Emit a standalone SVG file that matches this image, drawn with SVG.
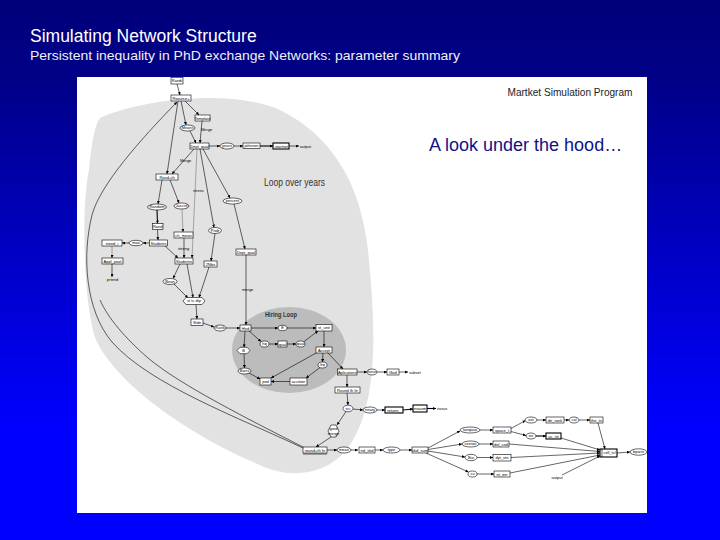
<svg xmlns="http://www.w3.org/2000/svg" width="720" height="540" viewBox="0 0 720 540">
<defs>
<linearGradient id="bg" x1="0" y1="0" x2="0" y2="1">
<stop offset="0" stop-color="#00007a"/>
<stop offset="0.15" stop-color="#000088"/>
<stop offset="0.7" stop-color="#0000f0"/>
<stop offset="0.8" stop-color="#0000ff"/>
<stop offset="1" stop-color="#0000ff"/>
</linearGradient>
<marker id="a" viewBox="0 0 6 6" refX="6" refY="3" markerWidth="3" markerHeight="3" orient="auto" markerUnits="userSpaceOnUse"><path d="M0,0 L6,3 L0,6 z" fill="#000"/></marker>
<style>
.b{fill:#fff;stroke:#000;stroke-width:0.6}
.d{fill:#fff;stroke:#000;stroke-width:1.1}
.t{font-family:"Liberation Sans",Arial,sans-serif;font-size:4px;text-anchor:middle;fill:#000}
.l{font-family:"Liberation Sans",Arial,sans-serif;font-size:4px;fill:#000}
.c path{fill:none;stroke:#000;stroke-width:0.6;marker-end:url(#a)}
.c path.g{stroke:#777}
.c path.k{stroke-width:1.1}
.c path.n{marker-end:none}
</style>
</defs>
<rect x="0" y="0" width="720" height="540" fill="url(#bg)"/>
<text x="30" y="42" font-family="Liberation Sans, Arial, sans-serif" font-size="17.5" fill="#fff">Simulating Network Structure</text>
<text x="30" y="60" font-family="Liberation Sans, Arial, sans-serif" font-size="13.5" fill="#f0f0f0" textLength="430" lengthAdjust="spacingAndGlyphs">Persistent inequality in PhD exchange Networks: parameter summary</text>
<rect x="77" y="77" width="570" height="436" fill="#fff"/>
<path d="M100,118 C140,100 230,88 280,110 C330,135 360,180 368,250 C375,320 380,400 350,445 C330,475 290,480 260,465 C200,440 120,390 96,340 C82,300 82,200 89,170 C92,140 95,125 100,118 Z" fill="#e2e2e2"/>
<ellipse cx="289" cy="350" rx="57" ry="43" fill="#bcbcbc"/>
<text x="570" y="96" font-family="Liberation Sans, Arial, sans-serif" font-size="11.5" fill="#222" text-anchor="middle" textLength="125" lengthAdjust="spacingAndGlyphs">Martket Simulation Program</text>
<text x="429" y="151" font-family="Liberation Sans, Arial, sans-serif" font-size="18" fill="#10108a">A look under the hood…</text>
<text x="264" y="186" font-family="Liberation Sans, Arial, sans-serif" font-size="10" fill="#333" textLength="61" lengthAdjust="spacingAndGlyphs">Loop over years</text>
<text x="265" y="317" font-family="Liberation Sans, Arial, sans-serif" font-size="7" font-weight="bold" fill="#333" textLength="32" lengthAdjust="spacingAndGlyphs">Hiring Loop</text>

<g id="connectors" class="c">
<path d="M177,84 L180,95"/>
<path d="M185,101 L199,115"/>
<path d="M181,101 L186,125"/>
<path d="M190,131 L196,143"/>
<path d="M202,121 L200,143"/>
<path d="M209,146 L220,146"/>
<path d="M234,146 L243,146"/>
<path class="k" d="M260,146 L273,146"/>
<path d="M289,146 L299,146"/>
<path d="M194,149 L172,174"/>
<path d="M178,101 L167,174"/>
<path d="M162,180 L158,204"/>
<path d="M170,180 L179,203"/>
<path class="k" d="M157,210 L157.5,223.5"/>
<path d="M157.5,229.5 L158,240"/>
<path class="g" d="M182,209 L183,232"/>
<path d="M184,238 L184,258"/>
<path d="M165,246 L178,258"/>
<path class="g" d="M197,149 L192,258"/>
<path d="M200,149 L214,227.5"/>
<path d="M203,149 L230,198"/>
<path d="M234,204 L245,249"/>
<path d="M215,233.5 L211,261"/>
<path d="M149.5,243 L143,243"/>
<path d="M129,243 L122,243"/>
<path class="g" d="M112,246 L112,258"/>
<path d="M112,264 L112,277"/>
<path d="M180,264 L173,278.5"/>
<path d="M187,264 L193,297.5"/>
<path d="M174,284 L188,298"/>
<path d="M209,267 L199,297.5"/>
<path d="M196,304.5 L197,319"/>
<path d="M246,255 L246,325"/>
<path d="M203,323 L214,327"/>
<path d="M226,328 L240,328"/>
<path d="M251,328 L278,328"/>
<path d="M287,328 L316,328"/>
<path d="M249,331 L261,341.5"/>
<path d="M269,344 L278,344"/>
<path d="M287,344 L296,344"/>
<path d="M304,341.5 L318,331"/>
<path d="M324,331 L324,347"/>
<path d="M245,331 L244,347.3"/>
<path d="M244,353.7 L244.5,368"/>
<path d="M249,373 L260,379"/>
<path d="M323,353 L322.5,362"/>
<path d="M320,367.5 L306,378"/>
<path d="M290,381.5 L271,381.5"/>
<path d="M318,352 L271,378"/>
<path d="M328,353 L343,369"/>
<path d="M357,372 L367,372"/>
<path d="M377,372 L387,372"/>
<path d="M399,372 L408,372"/>
<path d="M347,375 L347,387"/>
<path d="M347,393 L348,405"/>
<path d="M353,409 L363,410"/>
<path d="M377,410 L385,410"/>
<path class="k" d="M403,410 L413,409"/>
<path class="k" d="M427,408.5 L436,408.5"/>
<path d="M346,411.5 L337,425"/>
<path d="M331,437 L316,447"/>
<path d="M327,450 L337,450"/>
<path d="M351,450 L358,450"/>
<path d="M375,450 L383,450"/>
<path d="M400,450 L412,450"/>
<path d="M428,448 L460,431"/>
<path d="M428,449.5 L462,444"/>
<path d="M428,451 L465,457"/>
<path d="M426,453 L468.5,472"/>
<path d="M480,430 L493,430"/>
<path d="M479,444 L493,444"/>
<path d="M477,457.5 L493,457.5"/>
<path d="M477,474 L494,474"/>
<path d="M511,428.5 L525.5,420.5"/>
<path d="M511,431.5 L526,435.5"/>
<path d="M537,420 L546,420"/>
<path d="M564,420 L569,420"/>
<path d="M579,420 L590,420"/>
<path class="k" d="M536,436 L546,436"/>
<path d="M598,423 L605,449"/>
<path d="M561,438 L600,450"/>
<path d="M509,444 L600,451.5"/>
<path d="M511,457.5 L600,453"/>
<path d="M510,473 L600,455"/>
<path d="M562,475 L600,456"/>
<path d="M617,453 L630,452"/>
<path d="M303,448 C240,418 150,385 112,342 C85,310 82,255 92,215 C100,185 140,140 177,102"/>
<path class="n" d="M303,447 C250,420 180,385 148,358 C125,338 108,318 100,300"/>
</g>

<g id="n-randi"><rect class="b" x="171" y="77.5" width="12" height="6.5"/><text class="t" x="177" y="82.3">Randi</text></g>
<g id="n-rsource"><rect class="b" x="171" y="95" width="20" height="6"/><text class="t" x="181" y="99.5">Rsource+</text></g>
<g id="n-template"><rect class="b" x="195" y="115" width="15" height="6"/><text class="t" x="202.5" y="119.5">Template</text></g>
<g id="n-means"><ellipse class="b" cx="187.5" cy="128" rx="7.5" ry="3"/><text class="t" x="187.5" y="129.4">Means</text></g>
<text class="l" x="201" y="131">Merge</text>
<g id="n-deptqual"><rect class="b" x="190" y="143" width="19" height="6"/><text class="t" x="199.5" y="147.5">Dept_qual</text></g>
<g id="n-years"><ellipse class="b" cx="227" cy="146" rx="7" ry="3"/><text class="t" x="227" y="147.4">years</text></g>
<g id="n-johnson"><rect class="b" x="243" y="143" width="17" height="5.5"/><text class="t" x="251.5" y="147.3">johnson</text></g>
<g id="n-startset"><rect class="d" x="273" y="143" width="16" height="6"/><text class="t" x="281" y="147.5">.startset</text></g>
<text class="l" x="300" y="147.5">output</text>
<text class="l" x="180" y="162">Merge</text>
<g id="n-randth"><rect class="b" x="156" y="174" width="22" height="6"/><text class="t" x="167" y="178.5">Rand+th</text></g>
<text class="l" x="193" y="192">strenc</text>
<g id="n-random"><ellipse class="b" cx="157" cy="207" rx="9.5" ry="3"/><text class="t" x="157" y="208.4">Random</text></g>
<g id="n-jaccrd"><ellipse class="b" cx="181.5" cy="206" rx="7.5" ry="3"/><text class="t" x="181.5" y="207.4">Jaccrd</text></g>
<g id="n-percent"><ellipse class="b" cx="232.5" cy="201" rx="9.5" ry="3"/><text class="t" x="232.5" y="202.4">percent</text></g>
<g id="n-rand"><rect class="b" x="152.5" y="223.5" width="10.5" height="6"/><text class="t" x="157.7" y="228">Rand</text></g>
<g id="n-chmean"><rect class="b" x="174" y="232" width="19" height="6"/><text class="t" x="183.5" y="236.5">ch_mean</text></g>
<g id="n-prob"><ellipse class="b" cx="215" cy="230.5" rx="6.5" ry="3"/><text class="t" x="215" y="231.9">Prob</text></g>
<g id="n-students1"><rect class="b" x="149.5" y="240" width="18" height="6"/><text class="t" x="158.5" y="244.5">Students</text></g>
<g id="n-max"><ellipse class="b" cx="136" cy="243" rx="7" ry="2.7"/><text class="t" x="136" y="244.4">max</text></g>
<g id="n-stend"><rect class="b" x="102" y="240" width="20" height="6"/><text class="t" x="112" y="244.5">stend_i</text></g>
<text class="l" x="178" y="250">streng</text>
<g id="n-deptqual2"><rect class="b" x="236" y="249" width="20" height="6"/><text class="t" x="246" y="253.5">Dept_qual</text></g>
<g id="n-students2"><rect class="b" x="175" y="258" width="18" height="6"/><text class="t" x="184" y="262.5">Students</text></g>
<g id="n-2nbs"><rect class="b" x="204" y="261" width="13" height="6"/><text class="t" x="210.5" y="265.5">2Nbs</text></g>
<g id="n-applpool"><rect class="b" x="102" y="258" width="21" height="6"/><text class="t" x="112.5" y="262.5">Appl_pool</text></g>
<text class="t" x="112.5" y="281">prtend</text>
<g id="n-bean"><ellipse class="b" cx="170" cy="281.5" rx="7" ry="3"/><text class="t" x="170" y="282.9">Bean</text></g>
<text class="l" x="242" y="291">merge</text>
<g id="n-sttcdip"><polygon class="b" points="183,301 186,297.5 202,297.5 205,301 202,304.5 186,304.5"/><text class="t" x="194" y="302.4">st tc dip</text></g>
<g id="n-stdn"><rect class="b" x="191" y="319" width="12" height="6.5"/><text class="t" x="197" y="323.7">Stdn</text></g>
<g id="n-rank"><ellipse class="b" cx="220" cy="328" rx="6" ry="3"/><text class="t" x="220" y="329.4">Rank</text></g>
<g id="n-hird"><rect class="b" x="240" y="325" width="11" height="6"/><text class="t" x="245.5" y="329.5">Hird</text></g>
<g id="n-e"><ellipse class="b" cx="282.5" cy="328" rx="4.5" ry="2.7"/><text class="t" x="282.5" y="329.4">E</text></g>
<g id="n-stunit"><rect class="b" x="316" y="324.5" width="16" height="6.5"/><text class="t" x="324" y="329.2">st_unit</text></g>
<g id="n-hq"><ellipse class="b" cx="264.5" cy="344" rx="4.5" ry="3"/><text class="t" x="264.5" y="345.4">hq</text></g>
<g id="n-qual"><rect class="b" x="278" y="341" width="9" height="6"/><text class="t" x="282.5" y="345.5">qual</text></g>
<g id="n-qual2"><ellipse class="b" cx="300.5" cy="344" rx="4.5" ry="3"/><text class="t" x="300.5" y="345.4">qual</text></g>
<g id="n-accept"><rect class="b" x="316" y="347" width="16" height="6"/><text class="t" x="324" y="351.5">Accept</text></g>
<g id="n-b"><polygon class="b" points="237,350.5 240,347.3 247,347.3 250,350.5 247,353.7 240,353.7"/><text class="t" x="243.5" y="351.9">B</text></g>
<g id="n-frq"><ellipse class="b" cx="322.5" cy="365" rx="4.5" ry="3"/><text class="t" x="322.5" y="366.4">frq</text></g>
<g id="n-barrs"><ellipse class="b" cx="244.5" cy="371" rx="6.5" ry="3"/><text class="t" x="244.5" y="372.4">Barrs</text></g>
<g id="n-pod"><rect class="b" x="260" y="378" width="11" height="7"/><text class="t" x="265.5" y="383">pod</text></g>
<g id="n-accition"><rect class="b" x="290" y="378" width="17" height="7"/><text class="t" x="298.5" y="383">accition</text></g>
<g id="n-aplicatons"><rect class="b" x="337.5" y="369" width="19.5" height="6"/><text class="t" x="347.2" y="373.5">Aplicatons</text></g>
<g id="n-futur"><ellipse class="b" cx="372" cy="372" rx="5" ry="3"/><text class="t" x="372" y="373.4">futur</text></g>
<g id="n-illod"><rect class="b" x="387" y="369" width="12" height="6"/><text class="t" x="393" y="373.5">Illod</text></g>
<text class="l" x="409" y="373.5">subset</text>
<g id="n-roundthhr"><rect class="b" x="335" y="387" width="25" height="6"/><text class="t" x="347.5" y="391.5">Round th hr</text></g>
<g id="n-sci"><ellipse class="b" cx="348" cy="408.5" rx="5" ry="3.3"/><text class="t" x="348" y="409.9">sci</text></g>
<g id="n-neary"><ellipse class="b" cx="370" cy="410" rx="7" ry="3"/><text class="t" x="370" y="411.4">neary</text></g>
<g id="n-retunn"><rect class="d" x="385" y="407" width="18" height="6"/><text class="t" x="394" y="411.5">retunn_</text></g>
<g id="n-nsaum"><rect class="d" x="413" y="405" width="14" height="7"/><text class="t" x="420" y="410">nsaum</text></g>
<text class="l" x="437" y="410">sssus</text>
<g id="n-gred"><polygon class="b" points="328,431 331,425 336,425 339,431 336,437 331,437"/><text class="t" x="333.5" y="430">gred</text><text class="t" x="333.5" y="434.5">merge</text></g>
<g id="n-roundthhr2"><rect class="b" x="303" y="447" width="24" height="6"/><line x1="303" y1="454" x2="327" y2="454" stroke="#000" stroke-width="0.6"/><text class="t" x="315" y="451.5">round+th hr</text></g>
<g id="n-mean"><ellipse class="b" cx="344" cy="450" rx="7" ry="3"/><text class="t" x="344" y="451.4">mean</text></g>
<g id="n-ndskd"><rect class="b" x="359" y="447" width="16" height="6"/><text class="t" x="367" y="451.5">nd_skd</text></g>
<g id="n-type"><ellipse class="b" cx="391.5" cy="450" rx="8.5" ry="3"/><text class="t" x="391.5" y="451.4">type</text></g>
<g id="n-skdsum"><rect class="b" x="412" y="447" width="16" height="6"/><text class="t" x="420" y="451.5">skd_sum</text></g>
<g id="n-tanqaux"><ellipse class="b" cx="470" cy="430" rx="10" ry="3"/><text class="t" x="470" y="431.4">tanqaux</text></g>
<g id="n-spacet"><rect class="b" x="493" y="427" width="18" height="6"/><text class="t" x="502" y="431.5">space_t</text></g>
<g id="n-ast"><ellipse class="b" cx="531" cy="420" rx="6" ry="3"/><text class="t" x="531" y="421.4">ast</text></g>
<g id="n-derank"><rect class="b" x="546" y="417" width="18" height="6"/><text class="t" x="555" y="421.5">de_rank</text></g>
<g id="n-cal"><ellipse class="b" cx="574" cy="420" rx="5" ry="3"/><text class="t" x="574" y="421.4">cal</text></g>
<g id="n-thetri"><rect class="b" x="590" y="417" width="13" height="6"/><text class="t" x="596.5" y="421.5">the_tri</text></g>
<g id="n-ee"><ellipse class="b" cx="531" cy="436" rx="5" ry="3"/><text class="t" x="531" y="437.4">ee</text></g>
<g id="n-ucsti"><rect class="d" x="546" y="433" width="15" height="6"/><text class="t" x="553.5" y="437.5">uc_sti</text></g>
<g id="n-censor"><ellipse class="b" cx="470.5" cy="444" rx="8.5" ry="3"/><text class="t" x="470.5" y="445.4">censor</text></g>
<g id="n-dolcod"><rect class="b" x="493" y="441" width="16" height="6"/><text class="t" x="501" y="445.5">dol_cod</text></g>
<g id="n-bur"><ellipse class="b" cx="471" cy="457.5" rx="6" ry="3.2"/><text class="t" x="471" y="458.9">Bur</text></g>
<g id="n-dytstn"><rect class="b" x="493" y="454.5" width="18" height="6.5"/><text class="t" x="502" y="459.2">dyt_stn</text></g>
<g id="n-cu"><ellipse class="b" cx="472.5" cy="474" rx="4.5" ry="3"/><text class="t" x="472.5" y="475.4">cu</text></g>
<g id="n-ntwrr"><rect class="b" x="494" y="471" width="16" height="6"/><text class="t" x="502" y="475.5">nt_wrr</text></g>
<text class="t" x="557" y="479">output</text>
<g id="n-celltcl"><rect class="d" x="600" y="449" width="17" height="8"/><line x1="602" y1="449" x2="602" y2="457" stroke="#000" stroke-width="0.6"/><text class="t" x="609.5" y="454.3">cell_tcl</text></g>
<g id="n-bparst"><ellipse class="b" cx="638.5" cy="452" rx="8.5" ry="3.2"/><text class="t" x="638.5" y="453.4">bparst</text></g>
</svg>
